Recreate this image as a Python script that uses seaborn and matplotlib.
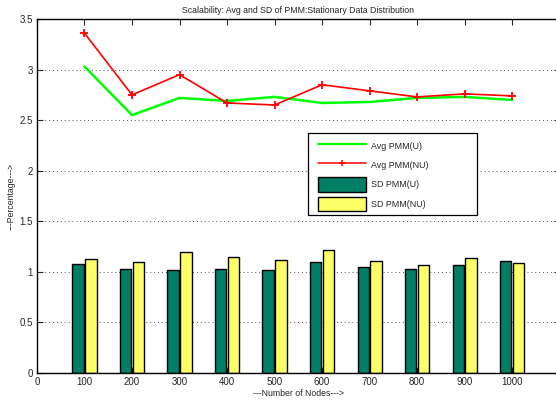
import matplotlib
matplotlib.use("Agg")
import matplotlib.pyplot as plt
import seaborn as sns
import pandas as pd
from matplotlib.patches import Patch, Rectangle
from matplotlib.lines import Line2D

nodes = [100, 200, 300, 400, 500, 600, 700, 800, 900, 1000]
avg_u = [3.03, 2.55, 2.72, 2.69, 2.73, 2.67, 2.68, 2.72, 2.73, 2.70]
avg_nu = [3.36, 2.75, 2.95, 2.67, 2.65, 2.85, 2.79, 2.73, 2.76, 2.74]
sd_u = [1.08, 1.03, 1.02, 1.03, 1.02, 1.10, 1.05, 1.03, 1.07, 1.11]
sd_nu = [1.13, 1.10, 1.20, 1.15, 1.12, 1.22, 1.11, 1.07, 1.14, 1.09]

title = "Scalability: Avg and SD of PMM:Stationary Data Distribution"
xlabel = "---Number of Nodes--->"
ylabel = "---Percentage--->"
labels = ["Avg PMM(U)", "Avg PMM(NU)", "SD PMM(U)", "SD PMM(NU)"]

c_line_u = "#00ff00"
c_line_nu = "#ff0000"
c_bar_u = "#007f66"
c_bar_nu = "#ffff66"

sns.set_style("white")
plt.rcParams["font.family"] = ["Liberation Sans", "DejaVu Sans"]

W, H = 556, 403
fig = plt.figure(figsize=(W / 100, H / 100), dpi=100)
ax = fig.add_axes([0.0665, 0.0744, 0.94, 0.8784])

bars = pd.DataFrame({
    "nodes": nodes * 2,
    "sd": sd_u + sd_nu,
    "series": [labels[2]] * len(nodes) + [labels[3]] * len(nodes),
})
sns.barplot(data=bars, x="nodes", y="sd", hue="series", native_scale=True,
            palette=[c_bar_u, c_bar_nu], saturation=1, width=0.54, gap=0.12,
            edgecolor="black", linewidth=1.0, errorbar=None, legend=False, ax=ax)

lines = pd.DataFrame({"nodes": nodes, "u": avg_u, "nu": avg_nu})
sns.lineplot(data=lines, x="nodes", y="u", color=c_line_u, linewidth=1.8, ax=ax)
sns.lineplot(data=lines, x="nodes", y="nu", color=c_line_nu, linewidth=1.2,
             marker="+", markersize=6, markeredgewidth=1.3,
             markeredgecolor=c_line_nu, ax=ax)

ax.set_xlim(0, 1100)
ax.set_ylim(0, 3.5)
ax.set_xticks([0] + nodes)
ax.set_xticklabels([str(v) for v in [0] + nodes])
ax.set_yticks([0, 0.5, 1, 1.5, 2, 2.5, 3, 3.5])
ax.set_yticklabels(["0", "0.5", "1", "1.5", "2", "2.5", "3", "3.5"])
ax.yaxis.grid(True, linestyle=(0, (1, 3)), color="#555555", linewidth=0.7)
ax.xaxis.grid(False)
ax.set_axisbelow(True)
ax.tick_params(direction="in", length=4, width=0.8, labelsize=7,
               top=True, right=True, bottom=True, left=True, pad=3)
for s in ax.spines.values():
    s.set_color("black")
    s.set_linewidth(1.0)

ax.set_title(title, fontsize=6.3, pad=4)
ax.set_xlabel(xlabel, fontsize=6.3, labelpad=1)
ax.set_ylabel(ylabel, fontsize=6.3, labelpad=3)

# legend frame drawn separately so the entries can sit with a wider inset
px = lambda x, y: (x / W, 1 - y / H)
fx0, fy1 = px(308, 133)
fx1, fy0 = px(477, 215)
fig.patches.append(Rectangle((fx0, fy0), fx1 - fx0, fy1 - fy0,
                             transform=fig.transFigure, facecolor="white",
                             edgecolor="black", linewidth=0.9, zorder=4))

handles = [
    Line2D([0], [0], color=c_line_u, linewidth=1.6),
    Line2D([0], [0], color=c_line_nu, linewidth=1.1, marker="+",
           markersize=5, markeredgewidth=1.1),
    Patch(facecolor=c_bar_u, edgecolor="black"),
    Patch(facecolor=c_bar_nu, edgecolor="black"),
]
lx, ly = px(318, 139)
leg = fig.legend(handles, labels, loc="upper left", bbox_to_anchor=(lx, ly),
                 bbox_transform=fig.transFigure,
                 fontsize=6.4, frameon=False, borderpad=0, borderaxespad=0,
                 labelspacing=0.55, handlelength=5.4, handleheight=2.1,
                 handletextpad=0.55)
leg.set_zorder(5)

fig.savefig("out.png", dpi=100)
